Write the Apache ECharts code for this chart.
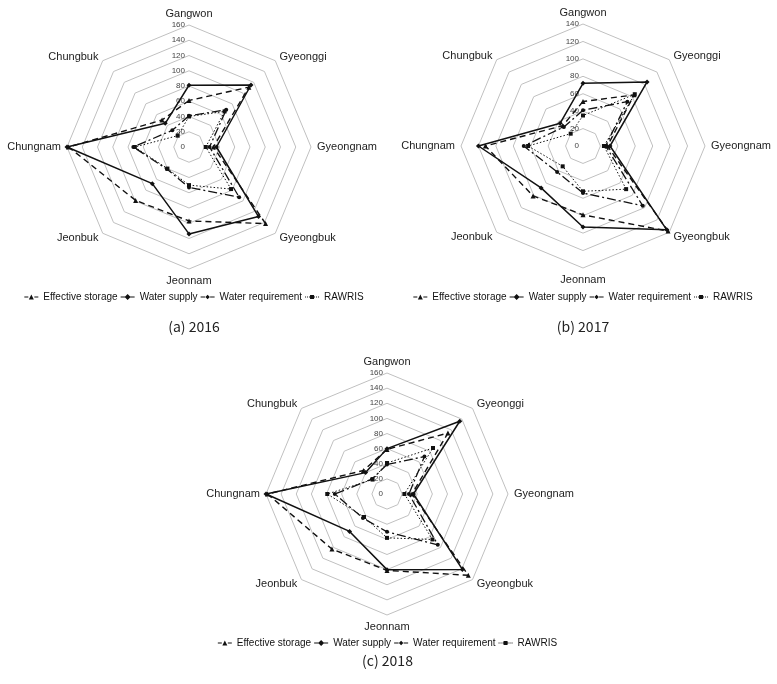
<!DOCTYPE html>
<html>
<head>
<meta charset="utf-8">
<script src="https://cdn.jsdelivr.net/npm/echarts@6/dist/echarts.min.js"></script>
<style>
    html, body { margin: 0; padding: 0; background: #fff; }
    .panel { position: absolute; }
</style>
</head>
<body>
<div id="chart2016" class="panel" style="left:0;top:0;width:388px;height:340px"></div>
<div id="chart2017" class="panel" style="left:389px;top:0;width:388px;height:340px"></div>
<div id="chart2018" class="panel" style="left:190px;top:340px;width:395px;height:344px"></div>
<script>
// indicator order runs counter-clockwise from the top (ECharts radar order)
const regions = ['Gangwon', 'Chungbuk', 'Chungnam', 'Jeonbuk', 'Jeonnam', 'Gyeongbuk', 'Gyeongnam', 'Gyeonggi'];
const seriesNames = ['Effective storage', 'Water supply', 'Water requirement', 'RAWRIS'];

const storage2016 = [61, 50, 158, 99, 97, 142, 32, 111];
const supply2016 = [81, 44, 160, 68, 114, 129, 36, 115];
const requirement2016 = [41, 31, 73, 41, 53, 93, 27, 69];
const rawris2016 = [40, 21, 71, 40, 50, 78, 22, 66];

const storage2017 = [51, 33, 112, 81, 79, 138, 28, 83];
const supply2017 = [72, 37, 120, 68, 93, 136, 31, 104];
const requirement2017 = [41, 31, 68, 42, 54, 97, 26, 72];
const rawris2017 = [35, 20, 63, 33, 52, 70, 24, 84];

const storage2018 = [59, 44, 158, 103, 101, 152, 33, 114];
const supply2018 = [60, 40, 160, 70, 100, 141, 35, 136];
const requirement2018 = [39, 28, 69, 45, 50, 95, 29, 70];
const rawris2018 = [41, 27, 79, 43, 58, 85, 23, 86];

const FONT = '"Liberation Sans", Arial, sans-serif';

const styles = [
    { symbol: 'triangle', size: 5, line: { width: 1.4, type: [6, 4] },
      icon: 'path://M0,2.5h4v1h-4z M10,2.5h4v1h-4z M7,0.5L9.5,5.5L4.5,5.5z' },
    { symbol: 'diamond', size: 5, line: { width: 1.5, type: 'solid' },
      icon: 'path://M0,2.5h14v1h-14z M7,0L10,3L7,6L4,3z' },
    { symbol: 'circle', size: 4, line: { width: 1.3, type: [9, 3, 2, 3] },
      icon: 'path://M0,2.5h4.5v1h-4.5z M9.5,2.5h4.5v1h-4.5z M7,0.8L9.2,3L7,5.2L4.8,3z' },
    { symbol: 'rect', size: 4, line: { width: 1, type: [1.5, 2] },
      icon: 'path://M0,2.5h1v1h-1z M2,2.5h1v1h-1z M4,2.5h1v1h-1z M9,2.5h1v1h-1z M11,2.5h1v1h-1z M13,2.5h1v1h-1z M5,1h4v4h-4z' },
];

const renderRadar = (domId, cfg) => {
    const chart = echarts.init(document.getElementById(domId));
    const values = [cfg.storage, cfg.supply, cfg.requirement, cfg.rawris];
    chart.setOption({
        animation: false,
        textStyle: { fontFamily: FONT },
        title: {
            text: cfg.caption, left: 'center', top: cfg.titleTop,
            textStyle: { fontFamily: '"Noto Sans CJK KR", sans-serif', fontSize: 14, fontWeight: 'normal', color: '#222' },
        },
        legend: {
            top: cfg.legendTop, left: 'center',
            itemWidth: 14, itemHeight: 6, itemGap: 3,
            textStyle: { fontSize: 10, color: '#111', fontFamily: FONT },
            data: seriesNames.map((n, i) => ({ name: n, icon: styles[i].icon })),
        },
        radar: {
            center: cfg.center,
            radius: cfg.radius,
            shape: 'polygon',
            startAngle: 90,
            splitNumber: cfg.max / 20,
            axisName: { color: '#222', fontSize: 11, fontFamily: FONT },
            nameGap: 6,
            axisLine: { show: false },
            axisTick: { show: false },
            axisLabel: { show: false, fontSize: 8, color: '#444', margin: 4 },
            splitLine: { lineStyle: { color: '#c0c0c0', width: 1 } },
            splitArea: { show: false },
            indicator: regions.map((r, i) => (i === 0
                ? { name: r, min: 0, max: cfg.max, axisLabel: { show: true } }
                : { name: r, min: 0, max: cfg.max })),
        },
        series: [{
            type: 'radar',
            data: seriesNames.map((n, i) => ({
                name: n,
                value: values[i],
                symbol: styles[i].symbol,
                symbolSize: styles[i].size,
                itemStyle: { color: '#111' },
                lineStyle: Object.assign({ color: '#111' }, styles[i].line),
            })),
        }],
    });
};

renderRadar('chart2016', {
    caption: '(a) 2016', max: 160, center: [189, 147], radius: 122,
    legendTop: 287, titleTop: 315,
    storage: storage2016, supply: supply2016, requirement: requirement2016, rawris: rawris2016,
});
renderRadar('chart2017', {
    caption: '(b) 2017', max: 140, center: [194, 146], radius: 122,
    legendTop: 287, titleTop: 315,
    storage: storage2017, supply: supply2017, requirement: requirement2017, rawris: rawris2017,
});
renderRadar('chart2018', {
    caption: '(c) 2018', max: 160, center: [197, 154], radius: 121,
    legendTop: 293, titleTop: 309,
    storage: storage2018, supply: supply2018, requirement: requirement2018, rawris: rawris2018,
});
</script>
</body>
</html>
